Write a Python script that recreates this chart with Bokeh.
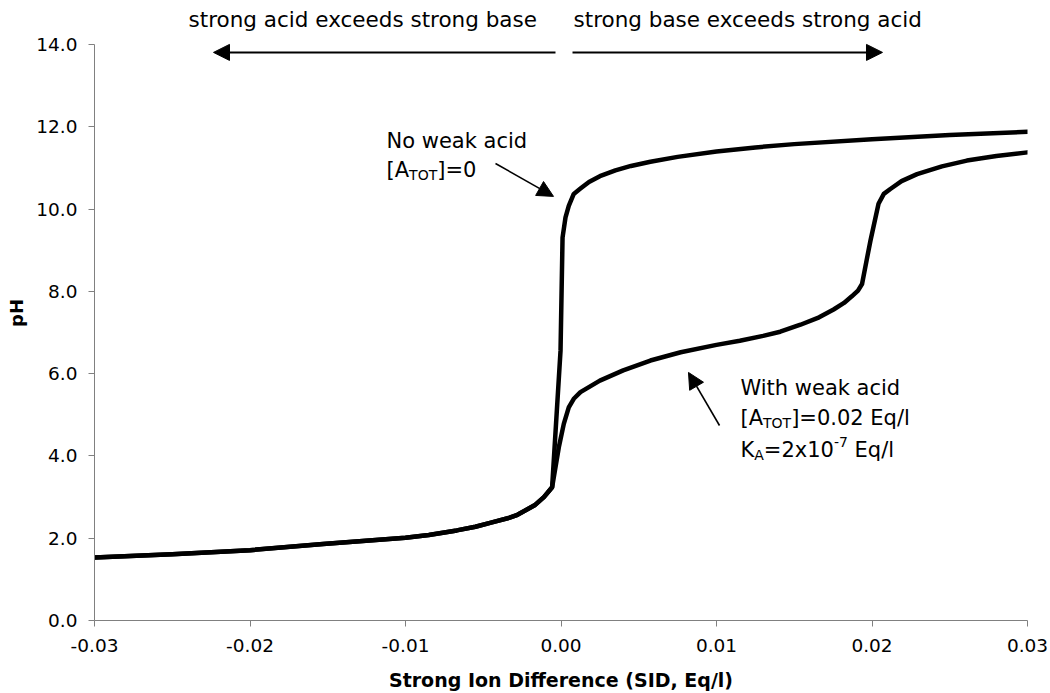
from bokeh.plotting import figure
from bokeh.models import (Arrow, NormalHead, ColumnDataSource, FixedTicker,
                          NumeralTickFormatter)
from bokeh.core.properties import value
from bokeh.embed import file_html
from bokeh.resources import INLINE

# ---------------- data ----------------
sid_common = [-0.030, -0.025, -0.020, -0.0153, -0.010, -0.0085, -0.0067,
              -0.0055, -0.0045, -0.0033, -0.0028, -0.0017, -0.0011, -0.00057]
ph_common = [1.53, 1.61, 1.71, 1.86, 2.01, 2.08, 2.19,
             2.28, 2.38, 2.50, 2.57, 2.80, 3.00, 3.24]

sid_no_weak_right = [-0.00003, 0.0001, 0.00029, 0.0005, 0.00082, 0.00125,
                     0.0018, 0.0025, 0.0035, 0.0045, 0.00575, 0.0075, 0.010,
                     0.0125, 0.015, 0.020, 0.025, 0.030]
ph_no_weak_right = [6.56, 9.31, 9.80, 10.08, 10.37, 10.50,
                    10.66, 10.80, 10.94, 11.05, 11.15, 11.27, 11.40,
                    11.50, 11.58, 11.70, 11.80, 11.88]

sid_weak_right = [-0.00014, 0.00018, 0.0005, 0.00082, 0.00125, 0.0025, 0.004,
                  0.00575, 0.0077, 0.010, 0.0115, 0.013, 0.0141, 0.0154,
                  0.0166, 0.01753, 0.0182, 0.0187, 0.0191, 0.01936, 0.01965,
                  0.0199, 0.02042, 0.02076, 0.02118, 0.0219, 0.0229, 0.0245,
                  0.0261, 0.028, 0.0300]
ph_weak_right = [4.21, 4.78, 5.18, 5.39, 5.55, 5.83, 6.08,
                 6.32, 6.52, 6.70, 6.80, 6.92, 7.02, 7.19,
                 7.37, 7.56, 7.72, 7.88, 8.02, 8.18, 8.75,
                 9.23, 10.13, 10.37, 10.49, 10.68, 10.85, 11.04,
                 11.18, 11.29, 11.38]

x_ticks = [-0.03, -0.02, -0.01, 0.0, 0.01, 0.02, 0.03]
y_ticks = [0, 2, 4, 6, 8, 10, 12, 14]

x_title = "Strong Ion Difference (SID, Eq/l)"
y_title = "pH"

FONT = "DejaVu Sans"

# ---------------- figure ----------------
p = figure(width=1050, height=693, x_range=(-0.03, 0.03), y_range=(0, 14.95),
           output_backend="svg", toolbar_location=None,
           min_border_left=94, min_border_right=23, min_border_top=5,
           min_border_bottom=73)
p.outline_line_color = None
p.xgrid.visible = False
p.ygrid.visible = False
p.background_fill_color = "white"
p.border_fill_color = "white"

for ax in (p.xaxis[0], p.yaxis[0]):
    ax.axis_line_color = "#808080"
    ax.major_tick_line_color = "#808080"
    ax.minor_tick_line_color = None
    ax.major_tick_out = 6
    ax.major_tick_in = 0
    ax.major_label_text_font = FONT
    ax.major_label_text_font_size = "18.5px"
    ax.major_label_text_color = "black"
    ax.axis_label_text_font = FONT
    ax.axis_label_text_font_style = "bold"
    ax.axis_label_text_color = "black"

p.xaxis.ticker = FixedTicker(ticks=x_ticks)
p.xaxis.formatter = NumeralTickFormatter(format="0.00")
p.xaxis.major_label_standoff = 12
p.xaxis.axis_label = x_title
p.xaxis.axis_label_text_font_size = "19px"
p.xaxis.axis_label_standoff = 14

p.yaxis.ticker = FixedTicker(ticks=y_ticks)
p.yaxis.formatter = NumeralTickFormatter(format="0.0")
p.yaxis.bounds = (0, 14)
p.yaxis.major_label_standoff = 11
p.yaxis.axis_label = y_title
p.yaxis.axis_label_text_font_size = "18px"
p.yaxis.axis_label_standoff = 6

# curves
p.line(sid_common + sid_no_weak_right, ph_common + ph_no_weak_right,
       line_color="black", line_width=4.5, line_join="round", line_cap="round")
p.line(sid_common + sid_weak_right, ph_common + ph_weak_right,
       line_color="black", line_width=4.5, line_join="round", line_cap="round")

# ---------------- annotations ----------------
W = {' ': .318, '[': .390, ']': .390, '=': .838, '.': .318, 'A': .684,
     'T': .611, 'O': .787, 'E': .632, 'q': .635, '/': .337, 'l': .278,
     'K': .656, 'x': .592, '-': .361}
for d in "0123456789":
    W[d] = .636


def width(s, size):
    return sum(W.get(c, .6) for c in s) * size


BASE = 21
SUB = 14


def rich(x, y, runs):
    """runs: list of (text, kind) with kind in 'n', 'sub', 'sup'"""
    xs, ys, ts, xo, yo, fs = [], [], [], [], [], []
    off = 0.0
    for t, kind in runs:
        size = BASE if kind == "n" else SUB
        dy = 0 if kind == "n" else (5 if kind == "sub" else -8)
        lead = len(t) - len(t.lstrip(" "))
        off += lead * W[' '] * size
        t = t.lstrip(" ")
        xs.append(x); ys.append(y); ts.append(t)
        xo.append(off); yo.append(dy); fs.append(f"{size}px")
        off += width(t, size)
    return dict(x=xs, y=ys, text=ts, xo=xo, yo=yo, fs=fs)


ann_no_weak_x, ann_no_weak_y = -0.01122, [11.66, 10.96]
ann_weak_x, ann_weak_y = 0.01154, [5.64, 4.92, 4.14]

blocks = [
    rich(ann_no_weak_x, ann_no_weak_y[0], [("No weak acid", "n")]),
    rich(ann_no_weak_x, ann_no_weak_y[1], [("[A", "n"), ("TOT", "sub"), ("]=0", "n")]),
    rich(ann_weak_x, ann_weak_y[0], [("With weak acid", "n")]),
    rich(ann_weak_x, ann_weak_y[1], [("[A", "n"), ("TOT", "sub"), ("]=0.02 Eq/l", "n")]),
    rich(ann_weak_x, ann_weak_y[2], [("K", "n"), ("A", "sub"), ("=2x10", "n"),
                                      ("-7", "sup"), (" Eq/l", "n")]),
]
data = {k: [] for k in ("x", "y", "text", "xo", "yo", "fs")}
for b in blocks:
    for k in data:
        data[k] += b[k]
src = ColumnDataSource(data)
p.text(x="x", y="y", text="text", x_offset="xo", y_offset="yo",
       text_font_size="fs", text_font=value(FONT), text_color="black",
       text_baseline="alphabetic", text_align="left", source=src)

top_texts = ["strong acid exceeds strong base", "strong base exceeds strong acid"]
top_x = [-0.02395, 0.000804]
top_y = [14.60, 14.60]
p.text(x=top_x, y=top_y, text=top_texts, text_font=value(FONT),
       text_font_size="21.5px", text_color="black", text_baseline="alphabetic",
       text_align="left")

# arrows: (x_start, y_start, x_end, y_end, line width)
arrows = [
    (-0.004212, 11.11, -0.000482, 10.31, 1.6),
    (0.010193, 4.74, 0.008199, 6.03, 1.6),
    (-0.000354, 13.81, -0.022347, 13.81, 2),
    (0.000740, 13.81, 0.020675, 13.81, 2),
]
for xs_, ys_, xe_, ye_, lw in arrows:
    p.add_layout(Arrow(end=NormalHead(size=16, fill_color="black",
                                      line_color="black", line_width=1),
                       x_start=xs_, y_start=ys_, x_end=xe_, y_end=ye_,
                       line_color="black", line_width=lw))

open("out.html", "w").write(file_html(p, INLINE))
